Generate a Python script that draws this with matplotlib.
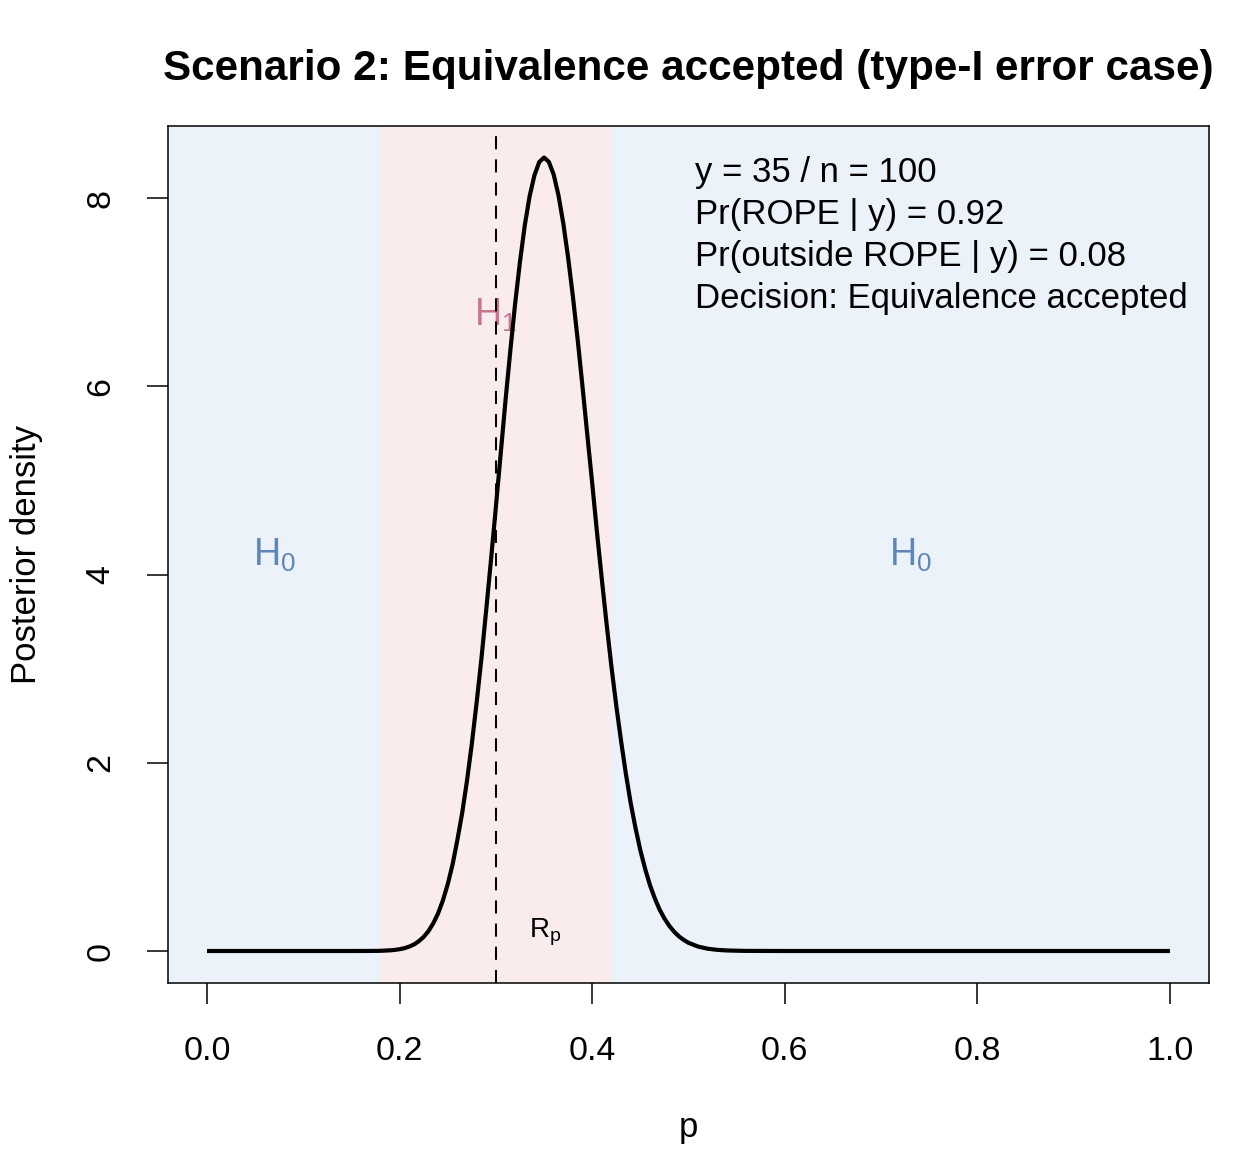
import numpy as np
import matplotlib
matplotlib.use("Agg")
import matplotlib.pyplot as plt
from matplotlib.patches import Rectangle

plt.rcParams['font.family'] = ['Liberation Sans', 'DejaVu Sans']
plt.rcParams['mathtext.fontset'] = 'custom'
plt.rcParams['mathtext.rm'] = 'Liberation Sans'
plt.rcParams['mathtext.it'] = 'Liberation Sans'

# posterior density
p_vals = [0.00, 0.10, 0.15, 0.17, 0.18, 0.19, 0.195, 0.20, 0.205, 0.21, 0.215,
          0.22, 0.225, 0.23, 0.235, 0.24, 0.245, 0.25, 0.255, 0.26, 0.265,
          0.27, 0.275, 0.28, 0.285, 0.29, 0.295, 0.30, 0.305, 0.31, 0.315,
          0.32, 0.325, 0.33, 0.335, 0.34, 0.345, 0.35, 0.355, 0.36, 0.365,
          0.37, 0.375, 0.38, 0.385, 0.39, 0.395, 0.40, 0.405, 0.41, 0.415,
          0.42, 0.425, 0.43, 0.435, 0.44, 0.445, 0.45, 0.455, 0.46, 0.465,
          0.47, 0.475, 0.48, 0.485, 0.49, 0.495, 0.50, 0.51, 0.52, 0.53,
          0.54, 0.55, 0.56, 0.60, 0.80, 1.00]
dens = [0.0, 0.0, 0.0, 0.0007, 0.002, 0.007, 0.0118, 0.019, 0.030, 0.047, 0.070,
        0.104, 0.150, 0.212, 0.295, 0.40, 0.539, 0.71, 0.919, 1.18, 1.467,
        1.81, 2.201, 2.64, 3.109, 3.63, 4.165, 4.72, 5.285, 5.85, 6.381,
        6.88, 7.323, 7.71, 8.018, 8.24, 8.383, 8.43, 8.384, 8.25, 8.028,
        7.73, 7.368, 6.95, 6.489, 5.99, 5.478, 4.97, 4.446, 3.95, 3.470,
        3.02, 2.607, 2.23, 1.881, 1.57, 1.306, 1.07, 0.872, 0.70, 0.560,
        0.44, 0.346, 0.268, 0.206, 0.156, 0.118, 0.087, 0.047, 0.024, 0.012,
        0.0057, 0.003, 0.0011, 0.0, 0.0, 0.0]

rope = [0.18, 0.42]
p_null = 0.30
x_ticks = [0.0, 0.2, 0.4, 0.6, 0.8, 1.0]
y_ticks = [0, 2, 4, 6, 8]
info_lines = ["y = 35 / n = 100",
              "Pr(ROPE | y) = 0.92",
              "Pr(outside ROPE | y) = 0.08",
              "Decision: Equivalence accepted"]

blue_bg = '#EBF2FA'
pink_bg = '#FAECED'
h0_col = '#5F86B9'
h1_col = '#C97390'

fig = plt.figure(figsize=(12.51, 11.52), dpi=100)
ax = fig.add_axes([0.1343, 0.1467, 0.8321, 0.7439])

xlo, xhi = -0.0405, 1.0405
ylo, yhi = -0.34, 8.765
ax.set_xlim(xlo, xhi)
ax.set_ylim(ylo, yhi)

# background regions
ax.add_patch(Rectangle((xlo, ylo), rope[0] - xlo, yhi - ylo, color=blue_bg, lw=0, zorder=0))
ax.add_patch(Rectangle((rope[0], ylo), rope[1] - rope[0], yhi - ylo, color=pink_bg, lw=0, zorder=0))
ax.add_patch(Rectangle((rope[1], ylo), xhi - rope[1], yhi - ylo, color=blue_bg, lw=0, zorder=0))

ax.text((xlo + rope[0]) / 2, 4.2, r'$\mathregular{H_0}$', color=h0_col, fontsize=27,
        ha='center', va='center', zorder=1)
ax.text((rope[1] + xhi) / 2, 4.2, r'$\mathregular{H_0}$', color=h0_col, fontsize=27,
        ha='center', va='center', zorder=1)
ax.text(sum(rope) / 2, 6.75, r'$\mathregular{H_1}$', color=h1_col, fontsize=27,
        ha='center', va='center', zorder=1)

ax.axvline(p_null, color='black', lw=1.45, ls=(0, (6.5, 5)), zorder=2)
ax.plot(p_vals, dens, color='black', lw=3.0, solid_capstyle='butt',
        solid_joinstyle='round', zorder=3)

ax.text(0.351, 0.2, r'$\mathregular{R_p}$', fontsize=20, ha='center', va='center', zorder=4)

for i, line in enumerate(info_lines):
    ax.text(0.507, 8.17 - i * 0.446, line, fontsize=25, ha='left', va='baseline', zorder=4)

ax.set_xticks(x_ticks)
ax.set_xticklabels(['%.1f' % v for v in x_ticks])
ax.set_yticks(y_ticks)
ax.set_yticklabels([str(v) for v in y_ticks], rotation=90, va='center')
ax.tick_params(axis='both', length=15, width=1.1, labelsize=24.5, direction='out')
ax.tick_params(axis='x', pad=23)
ax.tick_params(axis='y', pad=22)
for s in ax.spines.values():
    s.set_linewidth(1.1)

ax.set_xlabel('p', fontsize=25, labelpad=32)
ax.set_ylabel('Posterior density', fontsize=25, labelpad=31)
ax.set_title('Scenario 2: Equivalence accepted (type-I error case)', fontsize=30.4,
             fontweight='bold', pad=33)

fig.savefig('out.png', dpi=100)
